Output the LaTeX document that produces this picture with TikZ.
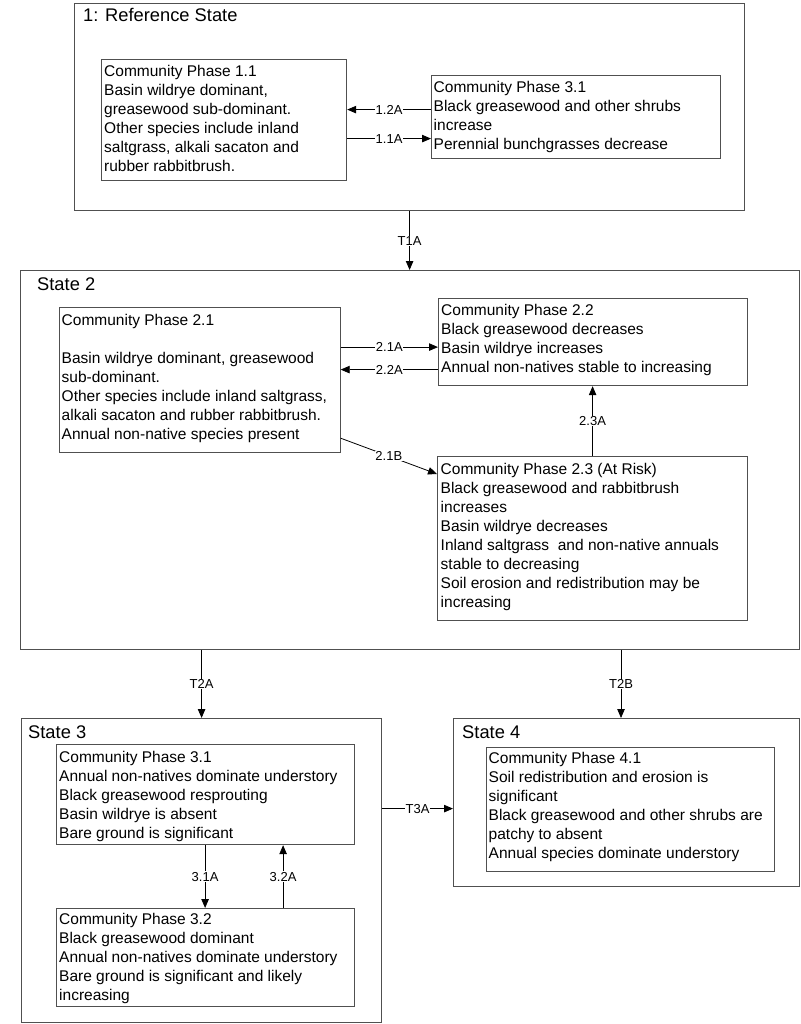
\documentclass[tikz,border=0pt]{standalone}
\usepackage{fontspec}
\setmainfont{Liberation Sans}
\usetikzlibrary{arrows.meta}
\definecolor{boxgray}{HTML}{505050}
\begin{document}
\begin{tikzpicture}[x=1pt,y=-1pt,
  box/.style={draw=boxgray, line width=1.2pt, rectangle, inner sep=0pt, anchor=north west},
  txt/.style={anchor=north west, inner sep=0pt, align=left, font=\fontsize{15.5}{19}\selectfont},
  ttl/.style={anchor=base west, inner sep=0pt, font=\fontsize{18.3}{22}\selectfont},
  lab/.style={fill=white, inner sep=0.6pt, font=\fontsize{13}{15}\selectfont},
  arr/.style={draw=black, line width=0.8pt, -{Triangle[length=9pt,width=7.5pt]}}]
\useasboundingbox (0,0) rectangle (800,1024);

% State 1
\node[box, minimum width=670pt, minimum height=207pt] (s1) at (74,3) {};
\node[ttl] (s1t) at (83,22) {1: Reference State};
\node[box, minimum width=245pt, minimum height=121pt] (cp11) at (101,59) {};
\node[txt] (cp11t) at (104,65) {Community Phase 1.1\\Basin wildrye dominant,\\greasewood sub-dominant.\\Other species include inland\\saltgrass, alkali sacaton and\\rubber rabbitbrush.};
\node[box, minimum width=289pt, minimum height=83pt] (cp31a) at (431,75) {};
\node[txt] (cp31at) at (433.5,81.5) {Community Phase 3.1\\Black greasewood and other shrubs\\increase\\Perennial bunchgrasses decrease};

% State 2
\node[box, minimum width=779pt, minimum height=379pt] (s2) at (20,270) {};
\node[ttl] (s2t) at (37,290) {State 2};
\node[box, minimum width=281pt, minimum height=145pt] (cp21) at (58.5,307) {};
\node[txt] (cp21t) at (61.5,314) {Community Phase 2.1\\[19pt]Basin wildrye dominant, greasewood\\sub-dominant.\\Other species include inland saltgrass,\\alkali sacaton and rubber rabbitbrush.\\Annual non-native species present};
\node[box, minimum width=309pt, minimum height=87pt] (cp22) at (438,298) {};
\node[txt] (cp22t) at (441,304) {Community Phase 2.2\\Black greasewood decreases\\Basin wildrye increases\\Annual non-natives stable to increasing};
\node[box, minimum width=310pt, minimum height=164pt] (cp23) at (437,456) {};
\node[txt] (cp23t) at (440.5,463) {Community Phase 2.3 (At Risk)\\Black greasewood and rabbitbrush\\increases\\Basin wildrye decreases\\Inland saltgrass\ \ and non-native annuals\\stable to decreasing\\Soil erosion and redistribution may be\\increasing};

% State 3
\node[box, minimum width=360pt, minimum height=304pt] (s3) at (21,718) {};
\node[ttl] (s3t) at (28,738) {State 3};
\node[box, minimum width=298pt, minimum height=100pt] (cp31c) at (55.5,744) {};
\node[txt] (cp31ct) at (59,751) {Community Phase 3.1\\Annual non-natives dominate understory\\Black greasewood resprouting\\Basin wildrye is absent\\Bare ground is significant};
\node[box, minimum width=298pt, minimum height=98pt] (cp32) at (55.5,908) {};
\node[txt] (cp32t) at (59,913) {Community Phase 3.2\\Black greasewood dominant\\Annual non-natives dominate understory\\Bare ground is significant and likely\\increasing};

% State 4
\node[box, minimum width=346pt, minimum height=168pt] (s4) at (453,718) {};
\node[ttl] (s4t) at (462,738) {State 4};
\node[box, minimum width=288pt, minimum height=124pt] (cp41) at (486,747) {};
\node[txt] (cp41t) at (488.5,752) {Community Phase 4.1\\Soil redistribution and erosion is\\significant\\Black greasewood and other shrubs are\\patchy to absent\\Annual species dominate understory};

% connectors
\draw[arr] ([yshift=7.5pt]cp31a.west) -- node[lab]{1.2A} ([yshift=7.5pt]cp31a.west -| cp11.east);
\draw[arr] ([yshift=-21.5pt]cp31a.west -| cp11.east) -- node[lab]{1.1A} ([yshift=-21.5pt]cp31a.west);
\draw[arr] (s1.south) -- node[lab]{T1A} (s1.south |- s2.north);
\draw[arr] ([yshift=-5pt]cp22.west -| cp21.east) -- node[lab]{2.1A} ([yshift=-5pt]cp22.west);
\draw[arr] ([yshift=-27.5pt]cp22.west) -- node[lab]{2.2A} ([yshift=-27.5pt]cp22.west -| cp21.east);
\draw[arr] (cp23.north) -- node[lab]{2.3A} (cp23.north |- cp22.south);
\draw[arr] ([yshift=15pt]cp21.south east) -- node[lab]{2.1B} ([yshift=-18pt]cp23.north west);
\draw[arr] (s3.north |- s2.south) -- node[lab]{T2A} (s3.north);
\coordinate (t2b) at (621,0);
\draw[arr] (t2b |- s2.south) -- node[lab]{T2B} (t2b |- s4.north);
\draw[arr] (cp31c.south) -- node[lab]{3.1A} (cp31c.south |- cp32.north);
\draw[arr] ([xshift=78pt]cp32.north) -- node[lab]{3.2A} ([xshift=78pt]cp32.north |- cp31c.south);
\draw[arr] ([yshift=62pt]s3.east) -- node[lab]{T3A} ([yshift=62pt]s3.east -| s4.west);
\end{tikzpicture}
\end{document}
